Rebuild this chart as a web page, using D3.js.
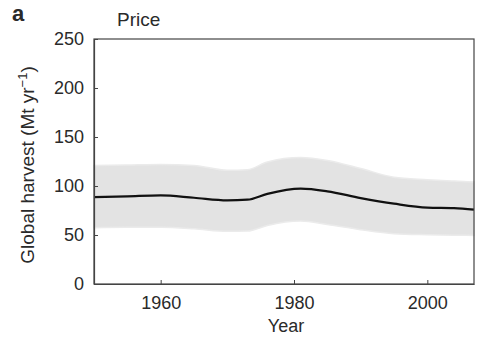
<!DOCTYPE html>
<html>
<head>
<meta charset="utf-8">
<script src="https://cdn.jsdelivr.net/npm/d3@7"></script>
<style>
body { margin:0; background:#fff; }
text { font-family: "Liberation Sans", Arial, sans-serif; fill:#2a2a2a; }
</style>
</head>
<body>
<div id="chart"></div>
<script>
// values
var years = [1950,1955,1960,1965,1970,1973,1976,1981,1985,1990,1995,2000,2004,2007];
var meanHarvest = [88.7,89.5,90.4,88,85.4,86,92,97.3,94.6,87.7,82,78,77.5,75.9];
var upperHarvest = [121,121.5,122,121,116,116.7,124.5,129,126,117.8,109,106.5,105,104];
var lowerHarvest = [57.5,58,58,56.4,53.7,54,59.8,64.2,60.8,55.4,51.3,50.3,49.8,49.6];
var yTicks = [0,50,100,150,200,250];
var xTicks = [1960,1980,2000];

var width = 477, height = 343;
var margin = {left:94, right:3, top:39, bottom:59};

var svg = d3.select("#chart").append("svg").attr("width", width).attr("height", height);

var x = d3.scaleLinear().domain([1950,2007]).range([margin.left, width-margin.right]);
var y = d3.scaleLinear().domain([0,250]).range([height-margin.bottom, margin.top]);

var data = years.map(function(d,i){ return {year:d, mean:meanHarvest[i], hi:upperHarvest[i], lo:lowerHarvest[i]}; });

// band
var area = d3.area()
    .x(function(d){ return x(d.year); })
    .y0(function(d){ return y(d.lo); })
    .y1(function(d){ return y(d.hi); })
    .curve(d3.curveMonotoneX);
svg.append("path").datum(data)
    .attr("d", area)
    .attr("fill", "#e3e3e3")
    .attr("stroke", "#ebebeb")
    .attr("stroke-width", 1.5);

// mean line
var line = d3.line()
    .x(function(d){ return x(d.year); })
    .y(function(d){ return y(d.mean); })
    .curve(d3.curveMonotoneX);
svg.append("path").datum(data)
    .attr("d", line)
    .attr("fill", "none")
    .attr("stroke", "#111")
    .attr("stroke-width", 2.2);

// frame
svg.append("rect")
    .attr("x", margin.left).attr("y", margin.top)
    .attr("width", width-margin.right-margin.left)
    .attr("height", height-margin.bottom-margin.top)
    .attr("fill", "none").attr("stroke", "#444").attr("stroke-width", 1.2);

// axes, ticks inward
var xAxis = svg.append("g")
    .attr("transform", "translate(0," + (height-margin.bottom) + ")")
    .call(d3.axisBottom(x).tickValues(xTicks).tickFormat(d3.format("d")).tickSizeInner(-4).tickSizeOuter(0).tickPadding(12));
var yAxis = svg.append("g")
    .attr("transform", "translate(" + margin.left + ",0)")
    .call(d3.axisLeft(y).tickValues(yTicks).tickSizeInner(-4).tickSizeOuter(0).tickPadding(10));

[xAxis, yAxis].forEach(function(g){
    g.select(".domain").attr("stroke", "#444").attr("stroke-width", 1.2);
    g.selectAll(".tick line").attr("stroke", "#444");
    g.selectAll(".tick text").attr("font-size", 18).attr("fill", "#2a2a2a")
        .style("font-family", "'Liberation Sans', Arial, sans-serif");
});

// labels
svg.append("text").attr("x", 12).attr("y", 21)
    .attr("font-size", 22).attr("font-weight", "bold").text("a");
svg.append("text").attr("x", 117).attr("y", 26)
    .attr("font-size", 19).text("Price");
svg.append("text").attr("x", 286).attr("y", 332)
    .attr("text-anchor", "middle").attr("font-size", 18).text("Year");

var yt = svg.append("text")
    .attr("transform", "translate(34,165) rotate(-90)")
    .attr("text-anchor", "middle").attr("font-size", 19);
yt.append("tspan").text("Global harvest (Mt yr");
yt.append("tspan").attr("dy", -7).attr("font-size", 13).text("\u22121");
yt.append("tspan").attr("dy", 7).text(")");
</script>
</body>
</html>
